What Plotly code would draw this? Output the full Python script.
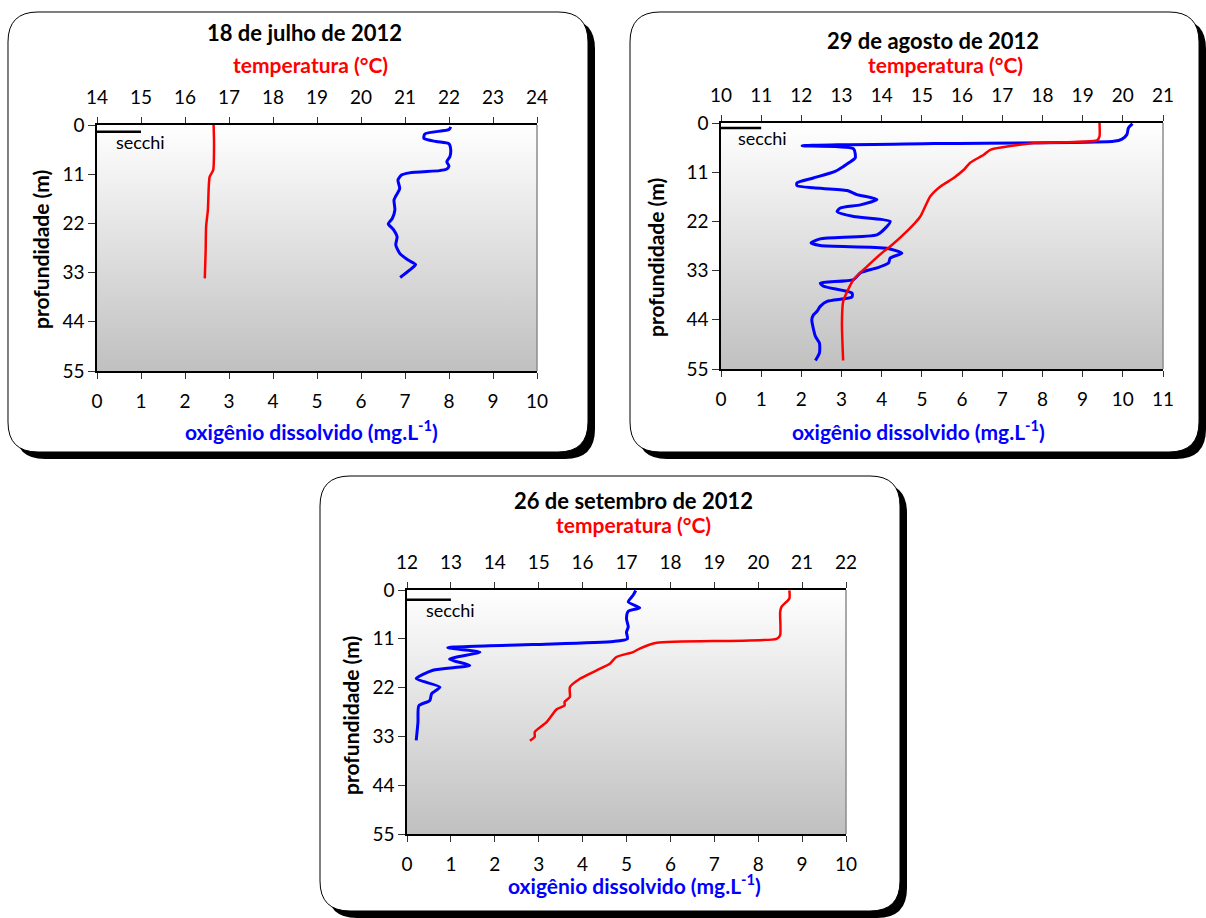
import plotly.graph_objects as go

W, H = 1206, 918
FONT = "Lato"

# ---------------- data ----------------
# Panel 1: 18 de julho de 2012
jul_do_depth = [0.4, 1.0, 2.0, 3.0, 3.7, 4.2, 5.6, 7.1, 8.2, 9.2, 9.9, 10.2, 10.7, 11.2, 12.3, 14.2,
                15.9, 16.8, 19.0, 20.9, 22.1, 23.3, 25.0, 26.8, 28.7, 30.2, 31.2, 32.4, 34.1]
jul_do = [8.04, 8.0, 7.45, 7.43, 7.71, 8.0, 8.04, 8.02, 7.95, 8.0, 7.94, 7.79, 7.1, 6.92, 6.84, 6.88,
          6.79, 6.75, 6.77, 6.71, 6.62, 6.73, 6.82, 6.79, 6.88, 7.07, 7.24, 7.11, 6.89]
jul_temp_depth = [0.0, 4.1, 10.1, 11.6, 13.8, 19.0, 22.7, 27.9, 34.3]
jul_temp = [16.65, 16.66, 16.64, 16.56, 16.54, 16.52, 16.48, 16.47, 16.45]
jul_secchi = 1.5

# Panel 2: 29 de agosto de 2012
ago_do_depth = [0.15, 1.1, 2.6, 3.6, 4.1, 4.6, 5.1, 5.8, 7.8, 8.9, 9.7, 10.8, 12.3, 13.4, 14.0, 14.5,
                15.1, 16.0, 17.1, 18.3, 19.0, 19.8, 20.9, 22.0, 23.5, 25.0, 25.9, 26.8, 27.4, 28.0,
                29.1, 30.2, 31.3, 32.4, 33.5, 35.0, 35.8, 36.5, 38.0, 38.9, 39.9, 41.0, 42.1, 42.9,
                44.0, 47.7, 49.2, 51.4, 53.1]
ago_do = [10.24, 10.14, 10.10, 9.98, 9.77, 5.30, 2.02, 3.30, 3.34, 3.18, 3.05, 2.84, 2.30, 1.89, 1.89, 2.30,
          3.14, 3.38, 3.88, 3.47, 2.97, 2.89, 3.30, 4.21, 4.09, 3.88, 2.47, 2.24, 2.47, 4.13,
          4.50, 4.21, 4.17, 3.88, 3.47, 3.30, 2.47, 2.55, 3.26, 3.26, 2.64, 2.47, 2.39, 2.30,
          2.26, 2.35, 2.45, 2.45, 2.35]
ago_temp_depth = [0.0, 3.0, 3.9, 4.5, 6.0, 7.1, 8.9, 10.4, 12.3, 14.2, 16.4, 18.3, 20.9, 24.2, 27.6,
                  28.7, 32.1, 35.0, 37.7, 39.9, 44.7, 53.1]
ago_temp = [19.42, 19.42, 19.36, 17.78, 16.70, 16.54, 16.20, 16.05, 15.79, 15.46, 15.21, 15.10, 14.96,
            14.63, 14.21, 14.05, 13.63, 13.30, 13.14, 13.04, 13.01, 13.04]
ago_secchi = 1.1

# Panel 3: 26 de setembro de 2012
set_do_depth = [0.1, 1.2, 2.7, 4.0, 4.8, 6.5, 8.3, 9.5, 11.0, 11.6, 12.3, 13.0, 14.0, 15.6, 17.0, 18.1,
                20.0, 21.9, 23.4, 24.9, 26.1, 29.8, 33.9]
set_do = [5.21, 5.15, 5.04, 5.30, 5.04, 5.00, 5.04, 5.00, 5.02, 4.70, 2.87, 0.93, 1.66, 0.97, 1.43, 0.59,
          0.21, 0.75, 0.56, 0.52, 0.27, 0.25, 0.21]
set_temp_depth = [0.1, 1.9, 3.8, 5.0, 10.2, 11.0, 11.9, 13.2, 14.0, 15.1, 16.6, 18.1, 20.0, 21.9, 24.1,
                  25.2, 26.0, 26.9, 29.8, 32.0, 33.1, 34.0]
set_temp = [20.71, 20.71, 20.53, 20.50, 20.50, 20.42, 17.69, 17.30, 17.15, 16.77, 16.62, 16.32, 15.94,
            15.71, 15.71, 15.59, 15.59, 15.41, 15.18, 14.91, 14.91, 14.80]
set_secchi = 2.2

titles = ["18 de julho de 2012", "29 de agosto de 2012", "26 de setembro de 2012"]
do_ranges = [[0, 10], [0, 11], [0, 10]]
temp_ranges = [[14, 24], [10, 21], [12, 22]]
depth_ticks = [0, 11, 22, 33, 44, 55]

panels_data = [
    (jul_do_depth, jul_do, jul_temp_depth, jul_temp, jul_secchi),
    (ago_do_depth, ago_do, ago_temp_depth, ago_temp, ago_secchi),
    (set_do_depth, set_do, set_temp_depth, set_temp, set_secchi),
]

# ---------------- layout geometry (page pixels) ----------------
plot_px = [(97, 125, 537, 371), (721, 123, 1163, 369), (407, 590, 846, 834)]
boxes = [(8, 12, 588, 452), (630, 12, 1199, 452), (320, 476, 900, 911)]
title_pos = [(304, 33), (933, 41), (633, 500)]
temp_pos = [(310, 64), (945, 64), (633, 524)]
oxy_pos = [(311, 430), (918, 430), (634, 884)]
prof_pos = [(40, 250), (655, 258), (350, 716)]


def px(x):
    return x / W


def py(y):
    return 1 - y / H


def rrect(x0, y0, x1, y1, r):
    pts = [
        ("M", [(x0 + r, y0)]),
        ("L", [(x1 - r, y0)]),
        ("Q", [(x1, y0), (x1, y0 + r)]),
        ("L", [(x1, y1 - r)]),
        ("Q", [(x1, y1), (x1 - r, y1)]),
        ("L", [(x0 + r, y1)]),
        ("Q", [(x0, y1), (x0, y1 - r)]),
        ("L", [(x0, y0 + r)]),
        ("Q", [(x0, y0), (x0 + r, y0)]),
    ]
    s = ""
    for cmd, ps in pts:
        s += cmd + " " + " ".join(f"{px(a):.5f},{py(b):.5f}" for a, b in ps) + " "
    return s + "Z"


fig = go.Figure()
layout = dict(
    width=W, height=H, margin=dict(l=0, r=0, t=0, b=0, pad=0, autoexpand=False),
    paper_bgcolor="white", plot_bgcolor="rgba(0,0,0,0)",
    showlegend=False, font=dict(family=FONT, size=19, color="black"),
)
shapes = []
annotations = []

for i in range(3):
    bx0, by0, bx1, by1 = boxes[i]
    shapes.append(dict(type="path", xref="paper", yref="paper", layer="below",
                       path=rrect(bx0 + 7, by0 + 7, bx1 + 7, by1 + 7, 30),
                       fillcolor="black", line=dict(width=0)))
    shapes.append(dict(type="path", xref="paper", yref="paper", layer="below",
                       path=rrect(bx0, by0, bx1, by1, 30),
                       fillcolor="white", line=dict(color="black", width=1)))

    n = 3 * i
    xo, xt = f"x{n + 1 if n else ''}", f"x{n + 2}"
    yk = f"y{i + 1 if i else ''}"
    xo_name = "xaxis" + (str(n + 1) if n else "")
    yname = "yaxis" + (str(i + 1) if i else "")
    x0p, y0p, x1p, y1p = plot_px[i]
    dom_x = [px(x0p), px(x1p)]
    dom_y = [py(y1p), py(y0p)]
    tickfont = dict(family=FONT, size=19, color="black")

    layout[xo_name] = dict(domain=dom_x, anchor=yk, range=do_ranges[i], dtick=1, tick0=0,
                           side="bottom", showgrid=False, zeroline=False, automargin=False,
                           showline=True, linecolor="black", linewidth=2,
                           ticks="outside", ticklen=6, tickcolor="#333", tickwidth=1,
                           tickfont=tickfont, ticklabelstandoff=6)
    layout[f"xaxis{n + 2}"] = dict(domain=dom_x, anchor=yk, overlaying=xo, range=temp_ranges[i],
                                   dtick=1, side="top", showgrid=False, zeroline=False,
                                   automargin=False,
                                   showline=True, linecolor="black", linewidth=1.5,
                                   ticks="outside", ticklen=6, tickcolor="#333", tickwidth=1,
                                   tickfont=tickfont, ticklabelstandoff=6)
    layout[f"xaxis{n + 3}"] = dict(domain=dom_x, anchor=yk, overlaying=xo, range=do_ranges[i],
                                   dtick=1, side="bottom", showgrid=False, zeroline=False,
                                   automargin=False,
                                   showline=False, mirror="ticks", showticklabels=False,
                                   ticks="inside", ticklen=6, tickcolor="#333", tickwidth=1)
    layout[yname] = dict(domain=dom_y, anchor=xo, range=[55, 0], tickvals=depth_ticks,
                         showgrid=False, zeroline=False, automargin=False,
                         showline=True, linecolor="black",
                         linewidth=1.5, ticks="outside", ticklen=7, tickcolor="#333",
                         tickfont=tickfont)

    # right border of plot area (gray)
    shapes.append(dict(type="line", xref=f"{xo} domain", yref=f"{yk} domain",
                       x0=1, x1=1, y0=0, y1=1, line=dict(color="#8c8c8c", width=1.5)))

    dd, do, td, tt, sec = panels_data[i]

    # gradient background of plot area
    lo, hi = do_ranges[i]
    fig.add_trace(go.Scatter(x=[lo, hi, hi, lo, lo], y=[0, 0, 55, 55, 0], xaxis=xo, yaxis=yk,
                             mode="none", fill="toself",
                             fillgradient=dict(type="vertical", start=0, stop=55,
                                               colorscale=[[0, "#ffffff"], [1, "#c0c0c0"]]),
                             hoverinfo="skip", showlegend=False))
    # secchi
    fig.add_trace(go.Scatter(x=[0, 1], y=[sec, sec], xaxis=xo, yaxis=yk, mode="lines",
                             line=dict(color="black", width=2.5), hoverinfo="skip"))
    annotations.append(dict(x=0.38, y=sec + 2.3, xref=xo, yref=yk, text="secchi",
                            showarrow=False, xanchor="left", yanchor="middle",
                            font=dict(family=FONT, size=18, color="black")))
    # oxygen
    fig.add_trace(go.Scatter(x=do, y=dd, xaxis=xo, yaxis=yk, mode="lines",
                             line=dict(color="#0000ff", width=3, shape="spline", smoothing=0.6),
                             name="oxigênio"))
    # temperature
    fig.add_trace(go.Scatter(x=tt, y=td, xaxis=xt, yaxis=yk, mode="lines",
                             line=dict(color="#ff0000", width=2.5, shape="spline", smoothing=0.6),
                             name="temperatura"))

    tx, ty = title_pos[i]
    annotations.append(dict(x=px(tx), y=py(ty), xref="paper", yref="paper",
                            text=f"<b>{titles[i]}</b>", showarrow=False,
                            xanchor="center", yanchor="middle",
                            font=dict(family=FONT, size=22, color="black")))
    tx, ty = temp_pos[i]
    annotations.append(dict(x=px(tx), y=py(ty), xref="paper", yref="paper",
                            text="<b>temperatura (°C)</b>", showarrow=False,
                            xanchor="center", yanchor="middle",
                            font=dict(family=FONT, size=21, color="#ff0000")))
    tx, ty = oxy_pos[i]
    annotations.append(dict(x=px(tx), y=py(ty), xref="paper", yref="paper",
                            text="<b>oxigênio dissolvido (mg.L<sup>-1</sup>)</b>", showarrow=False,
                            xanchor="center", yanchor="middle",
                            font=dict(family=FONT, size=21, color="#0000ff")))
    tx, ty = prof_pos[i]
    annotations.append(dict(x=px(tx), y=py(ty), xref="paper", yref="paper",
                            text="<b>profundidade (m)</b>", showarrow=False, textangle=-90,
                            xanchor="center", yanchor="middle",
                            font=dict(family=FONT, size=21, color="black")))

layout["shapes"] = shapes
layout["annotations"] = annotations
fig.update_layout(**layout)
fig.write_html("out.html")
